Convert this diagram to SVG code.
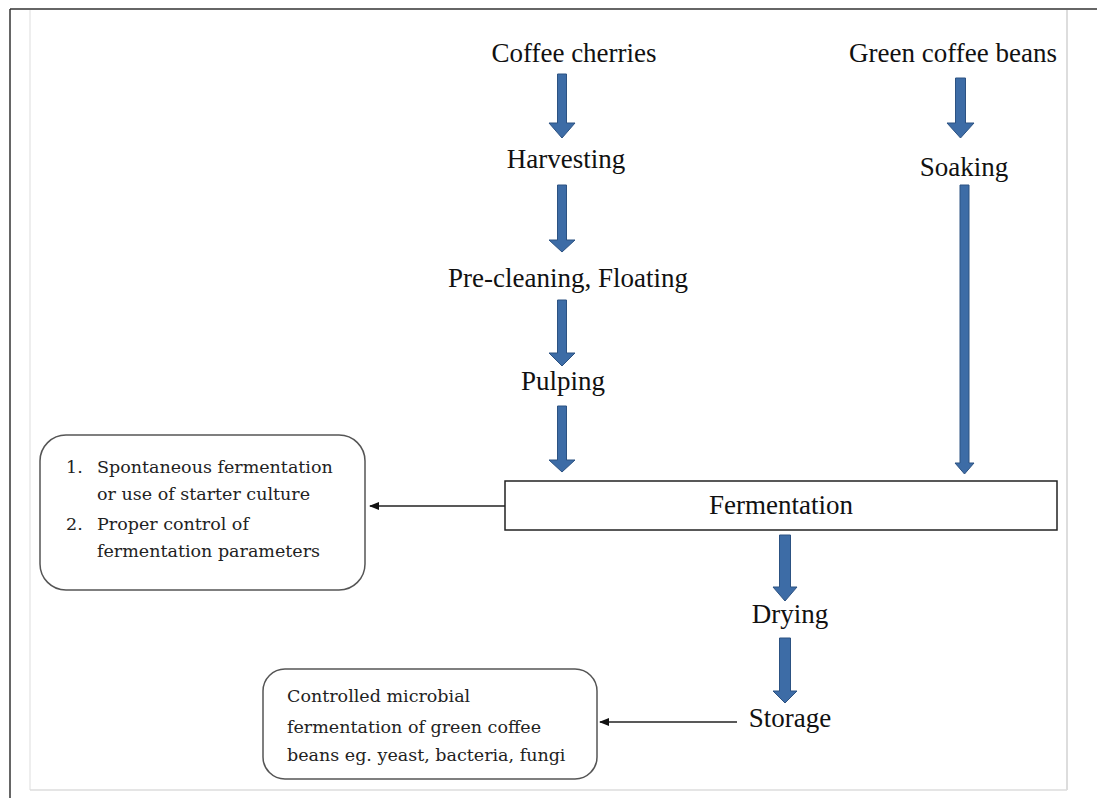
<svg xmlns="http://www.w3.org/2000/svg" width="1097" height="798" viewBox="0 0 1097 798">
<defs>
<marker id="ah" markerWidth="10" markerHeight="8" refX="9" refY="4" orient="auto" markerUnits="userSpaceOnUse">
<path d="M0,0 L10,4 L0,8 Z" fill="#111"/>
</marker>
</defs>
<style>
.lbl{font-family:"Liberation Serif","Times New Roman",serif;font-size:27px;fill:#111;text-anchor:middle}
.note{font-family:"DejaVu Serif","Liberation Serif",serif;font-size:17.5px;fill:#222}
.barrow{fill:#3d6ca6;stroke:#2c5282;stroke-width:1}
.rbox{fill:#fff;stroke:#555;stroke-width:1.5}
.conn{stroke:#222;stroke-width:1.3;fill:none}
</style>
<rect width="1097" height="798" fill="#fff"/>
<g id="frame">
<line x1="10" y1="9" x2="1097" y2="9" stroke="#333" stroke-width="1.5"/>
<line x1="10" y1="9" x2="10" y2="798" stroke="#333" stroke-width="1.5"/>
<line x1="30" y1="10" x2="30" y2="790" stroke="#ddd" stroke-width="1"/>
<line x1="1067" y1="10" x2="1067" y2="790" stroke="#bbb" stroke-width="1"/>
<line x1="30" y1="790" x2="1067" y2="790" stroke="#ddd" stroke-width="1.5"/>
</g>
<g id="connectors">
<polygon class="barrow" points="557.5,74 566.5,74 566.5,123 575,123 562,138 549,123 557.5,123"/>
<polygon class="barrow" points="557.5,185 566.5,185 566.5,240 575,240 562,252 549,240 557.5,240"/>
<polygon class="barrow" points="557.5,300 566.5,300 566.5,353 575,353 562,366 549,353 557.5,353"/>
<polygon class="barrow" points="557.5,406 566.5,406 566.5,460 575,460 562,472 549,460 557.5,460"/>
<polygon class="barrow" points="955.5,78 965.5,78 965.5,123 974,123 960.5,138 947,123 955.5,123"/>
<polygon class="barrow" points="960,185 969,185 969,463 974,463 964.5,474 955,463 960,463"/>
<polygon class="barrow" points="779.5,535 790.5,535 790.5,587 797,587 785,601 773,587 779.5,587"/>
<polygon class="barrow" points="779.5,638 790.5,638 790.5,691 797,691 785,703 773,691 779.5,691"/>
<line class="conn" x1="505" y1="506" x2="370" y2="506" marker-end="url(#ah)"/>
<line class="conn" x1="737" y1="722" x2="600" y2="722" marker-end="url(#ah)"/>
</g>
<g id="coffee-cherries"><text class="lbl" x="574" y="62">Coffee cherries</text></g>
<g id="harvesting"><text class="lbl" x="566" y="168">Harvesting</text></g>
<g id="pre-cleaning"><text class="lbl" x="568" y="287">Pre-cleaning, Floating</text></g>
<g id="pulping"><text class="lbl" x="563" y="390">Pulping</text></g>
<g id="green-coffee-beans"><text class="lbl" x="953" y="62">Green coffee beans</text></g>
<g id="soaking"><text class="lbl" x="964" y="176">Soaking</text></g>
<g id="fermentation">
<rect x="505" y="481" width="552" height="49" fill="#fff" stroke="#222" stroke-width="1.5"/>
<text class="lbl" x="781" y="514">Fermentation</text>
</g>
<g id="drying"><text class="lbl" x="790" y="623">Drying</text></g>
<g id="storage"><text class="lbl" x="790" y="727">Storage</text></g>
<g id="fermentation-notes">
<rect class="rbox" x="40" y="435" width="325" height="155" rx="26" ry="26"/>
<text class="note" x="66" y="473">1.</text>
<text class="note" x="97" y="473">Spontaneous fermentation</text>
<text class="note" x="97" y="500">or use of starter culture</text>
<text class="note" x="66" y="530">2.</text>
<text class="note" x="97" y="530">Proper control of</text>
<text class="note" x="97" y="557">fermentation parameters</text>
</g>
<g id="storage-notes">
<rect class="rbox" x="263" y="669" width="334" height="110" rx="22" ry="22"/>
<text class="note" x="287" y="702">Controlled microbial</text>
<text class="note" x="287" y="733">fermentation of green coffee</text>
<text class="note" x="287" y="761">beans eg. yeast, bacteria, fungi</text>
</g>
</svg>
